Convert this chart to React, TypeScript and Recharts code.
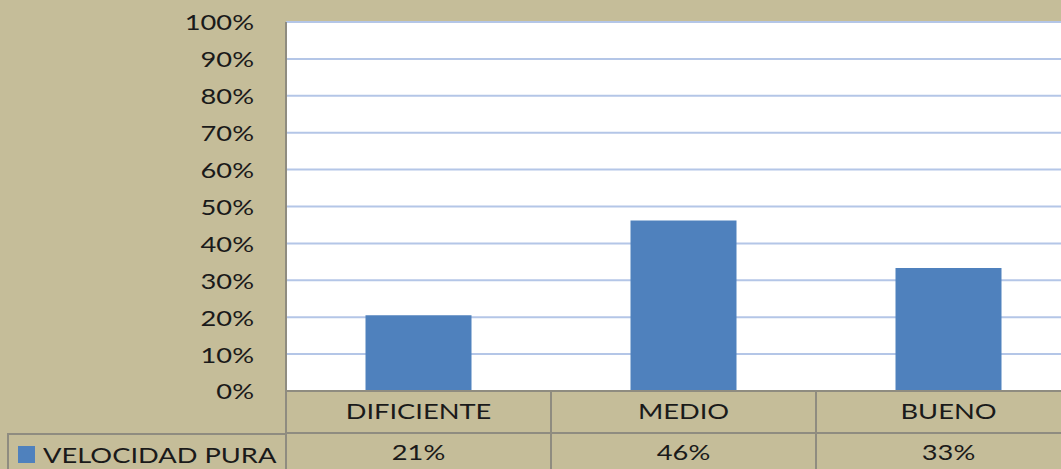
import React from "react"
import { BarChart, Bar, XAxis, YAxis, CartesianGrid, Legend } from "recharts"

const categories = ["DIFICIENTE", "MEDIO", "BUENO"]
const velocidadPura = [20.5, 46.2, 33.3]
const tableLabels = ["21%", "46%", "33%"]
const yTicks = [0, 10, 20, 30, 40, 50, 60, 70, 80, 90, 100]

const data = categories.map((name, i) => ({ name, value: velocidadPura[i], label: tableLabels[i] }))

const FONT = "Lato, sans-serif"
const FS = 22
const STRETCH = 1.24
const LINE = "#8f8c80"
const BAR = "#4f81bd"
const BG = "#c5bd99"
const INK = "#1a1a1a"

function WideText({ x, y, anchor, children }: any) {
  return (
    <text
      transform={`translate(${x},${y}) scale(${STRETCH},1)`}
      x={0}
      y={0}
      textAnchor={anchor}
      dominantBaseline="central"
      fontSize={FS}
      fill={INK}
      fontFamily={FONT}
    >
      {children}
    </text>
  )
}

function YTick(props: any) {
  const { x, y, payload } = props
  return <WideText x={x} y={y} anchor="end">{`${payload.value}%`}</WideText>
}

function TableTick(props: any) {
  const { x, y, payload, index } = props
  const half = payload?.offset || 132.5
  const row = data[index]
  return (
    <g>
      <line x1={x - half} x2={x - half} y1={y} y2={y + 80} stroke={LINE} strokeWidth={2} />
      <line x1={x + half} x2={x + half} y1={y} y2={y + 80} stroke={LINE} strokeWidth={2} />
      <line x1={x - half} x2={x + half} y1={y + 42} y2={y + 42} stroke={LINE} strokeWidth={2} />
      <WideText x={x} y={y + 20} anchor="middle">{payload.value}</WideText>
      <WideText x={x} y={y + 61} anchor="middle">{row ? row.label : ""}</WideText>
    </g>
  )
}

function LegendCell() {
  return (
    <div
      style={{
        width: "100%",
        height: "100%",
        boxSizing: "border-box",
        borderTop: `2px solid ${LINE}`,
        borderLeft: `2px solid ${LINE}`,
        display: "flex",
        alignItems: "center",
        paddingLeft: 9,
        fontFamily: FONT,
        fontSize: FS,
        color: INK,
      }}
    >
      <span style={{ width: 17, height: 17, background: BAR, display: "inline-block", marginRight: 8, flex: "none" }} />
      <span style={{ display: "inline-block", transform: `scaleX(${STRETCH})`, transformOrigin: "left center", whiteSpace: "nowrap" }}>
        VELOCIDAD PURA
      </span>
    </div>
  )
}

export default function App() {
  return (
    <div style={{ position: "absolute", left: 0, top: 0, width: 1061, height: 469, overflow: "hidden", background: BG }}>
      <BarChart
        width={1081}
        height={469}
        data={data}
        margin={{ top: 22, right: 0, bottom: 48, left: 206 }}
        barCategoryGap="30%"
      >
        <CartesianGrid vertical={false} stroke="#b4c6e7" strokeWidth={2} fill="#ffffff" />
        <YAxis
          width={80}
          domain={[0, 100]}
          ticks={yTicks}
          interval={0}
          tickLine={false}
          tickSize={0}
          tickMargin={32}
          axisLine={{ stroke: LINE, strokeWidth: 2 }}
          tick={<YTick />}
        />
        <XAxis
          dataKey="name"
          height={30}
          tickLine={false}
          tickSize={0}
          tickMargin={0}
          axisLine={{ stroke: LINE, strokeWidth: 2 }}
          tick={<TableTick />}
          interval={0}
        />
        <Bar dataKey="value" name="VELOCIDAD PURA" fill={BAR} isAnimationActive={false} />
        <Legend
          layout="horizontal"
          verticalAlign="middle"
          align="center"
          wrapperStyle={{ left: 7, top: 433, width: 279, height: 40 }}
          content={() => <LegendCell />}
        />
      </BarChart>
    </div>
  )
}
